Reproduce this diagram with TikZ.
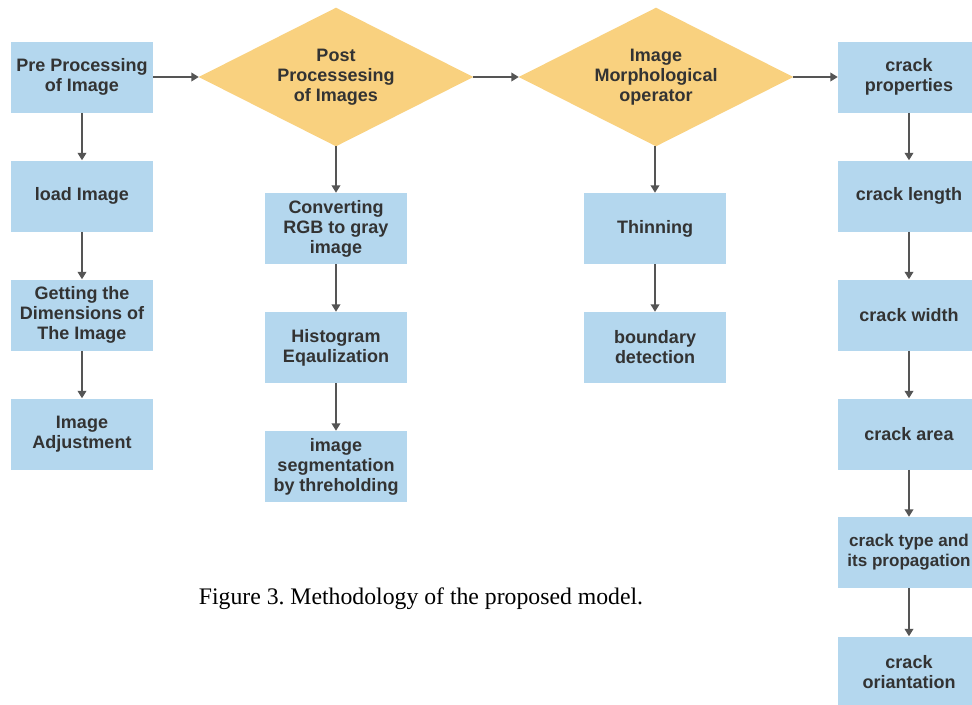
\documentclass[tikz,border=0pt]{standalone}
\usepackage{fontspec}
\setmainfont{Liberation Serif}
\newfontfamily\boxfont{Liberation Sans}
\usetikzlibrary{arrows.meta,backgrounds}
\frenchspacing
\definecolor{boxblue}{HTML}{B4D7EE}
\definecolor{diaorange}{HTML}{F9D17F}
\definecolor{txtgray}{HTML}{333333}
\definecolor{arrgray}{HTML}{555555}
\tikzset{
  boxtext/.style={inner sep=0pt, align=center, text=txtgray, font=\boxfont\bfseries\fontsize{13.5}{15}\selectfont},
  stepbox/.style={rectangle, fill=boxblue, minimum width=106.5pt, minimum height=53.25pt, boxtext},
  decbox/.style={rectangle, minimum width=205.5pt, minimum height=103.5pt, boxtext},
  decfill/.style={fill=diaorange},
  flow/.style={draw=arrgray, line width=1pt, -{Triangle[length=5.5pt,width=6.5pt]}, arrgray},
}
\begin{document}
\begin{tikzpicture}[x=0.75pt,y=-0.75pt]
\useasboundingbox (0,0) rectangle (972,704);
% column 1
\node[stepbox] (pre) at (82,77) {Pre Processing\\of Image};
\node[stepbox] (load) at (82,196) {load Image};
\node[stepbox] (dim) at (82,315) {Getting the\\Dimensions of\\The Image};
\node[stepbox] (adj) at (82,434) {Image\\Adjustment};
% column 2
\node[decbox] (post) at (336,77) {Post\\Processesing\\of Images};
\node[stepbox] (rgb) at (336,228.5) {Converting\\RGB to gray\\image};
\node[stepbox] (hist) at (336,347.5) {Histogram\\Eqaulization};
\node[stepbox] (seg) at (336,466.5) {image\\segmentation\\by threholding};
% column 3
\node[decbox] (morph) at (656,77) {Image\\Morphological\\operator};
\node[stepbox] (thin) at (655,228.5) {Thinning};
\node[stepbox] (bound) at (655,347.5) {boundary\\detection};
% column 4
\node[stepbox] (prop) at (909,77) {crack\\properties};
\node[stepbox] (len) at (909,196) {crack length};
\node[stepbox] (wid) at (909,315) {crack width};
\node[stepbox] (area) at (909,434) {crack area};
\node[stepbox, font=\boxfont\bfseries\fontsize{12.8}{15}\selectfont] (type) at (909,552.5) {crack type and\\its propagation};
\node[stepbox] (ori) at (909,672) {crack\\oriantation};
% caption
\node[font=\fontsize{17.8}{21}\selectfont, anchor=base] (cap) at (421,604) {Figure 3. Methodology of the proposed model.};
% diamonds
\begin{scope}[on background layer]
\fill[white] (0,0) rectangle (972,704);
\fill[decfill] (post.west) -- (post.north) -- (post.east) -- (post.south) -- cycle;
\fill[decfill] (morph.west) -- (morph.north) -- (morph.east) -- (morph.south) -- cycle;
\end{scope}
% arrows
\draw[flow] (pre) -- (post);
\draw[flow] (post) -- (morph);
\draw[flow] (morph) -- (prop);
\draw[flow] (pre) -- (load);
\draw[flow] (load) -- (dim);
\draw[flow] (dim) -- (adj);
\draw[flow] (post.south) -- (rgb.north);
\draw[flow] (rgb) -- (hist);
\draw[flow] (hist) -- (seg);
\draw[flow] (morph.south -| thin) -- (thin.north);
\draw[flow] (thin) -- (bound);
\draw[flow] (prop) -- (len);
\draw[flow] (len) -- (wid);
\draw[flow] (wid) -- (area);
\draw[flow] (area) -- (type);
\draw[flow] (type) -- (ori);
\end{tikzpicture}
\end{document}
